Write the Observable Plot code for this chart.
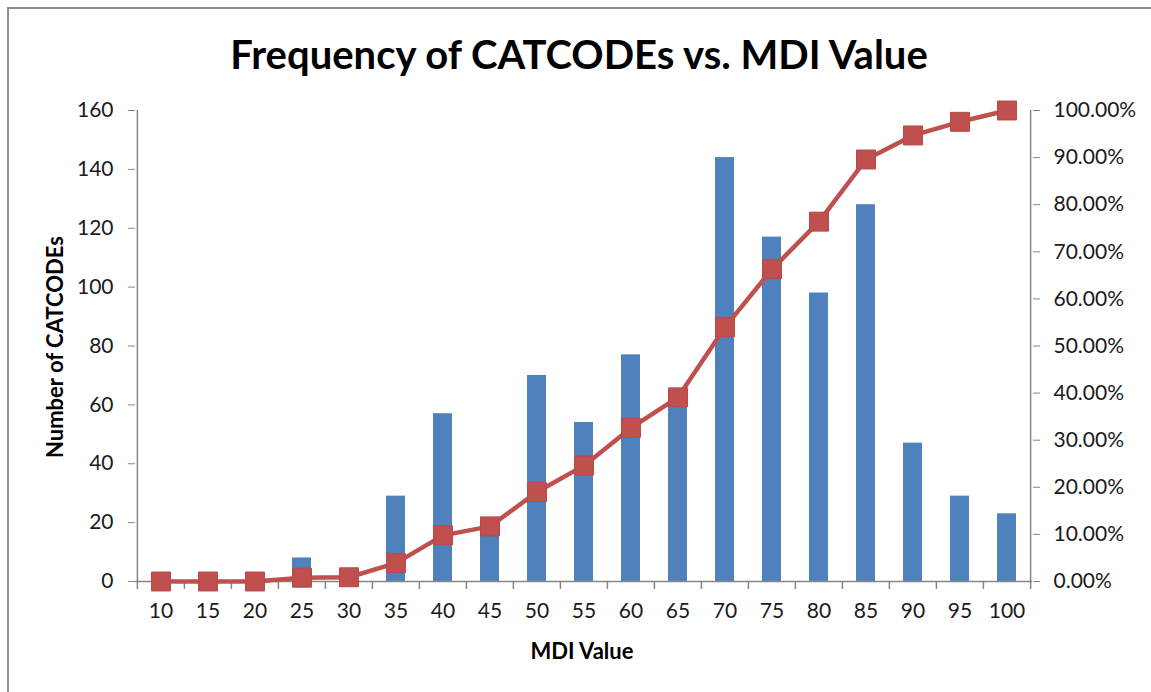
<!DOCTYPE html>
<html><head><meta charset="utf-8">
<script src="https://cdn.jsdelivr.net/npm/d3@7"></script>
<script src="https://cdn.jsdelivr.net/npm/@observablehq/plot@0.6"></script>
<style>
body{margin:0;background:#fff;font-family:Lato,"Open Sans",sans-serif;}
#wrap{position:relative;width:1151px;height:692px;overflow:hidden;background:#fff;}
#border{position:absolute;left:7px;top:7px;width:1300px;height:900px;border-left:2px solid #8c8c8c;border-top:2px solid #8c8c8c;}
#title{position:absolute;top:30px;left:7px;right:0;text-align:center;font-weight:bold;font-size:40px;line-height:1.2;color:#000;white-space:nowrap;}
#chart{position:absolute;left:0;top:0;}
.lab{position:absolute;font-weight:bold;font-size:22px;color:#000;white-space:nowrap;line-height:1;}
#ylab{left:55px;top:347px;transform:translate(-50%,-50%) rotate(-90deg);}
#xlab{left:582px;top:651px;transform:translate(-50%,-50%);}
</style>
</head>
<body>
<div id="wrap">
  <div id="border"></div>
  <div id="chart"></div>
  <div id="title">Frequency of CATCODEs vs. MDI Value</div>
  <div class="lab" id="ylab">Number of CATCODEs</div>
  <div class="lab" id="xlab">MDI Value</div>
</div>
<script>
const mdi = ["10","15","20","25","30","35","40","45","50","55","60","65","70","75","80","85","90","95","100"];
const counts = [0,0,0,8,0,29,57,18,70,54,77,62,144,117,98,128,47,29,23];
const cumPct = [0,0,0,0.8,0.9,3.9,9.8,11.7,19.0,24.6,32.6,39.1,54.0,66.3,76.4,89.6,94.7,97.6,100];
const leftTicks = [0,20,40,60,80,100,120,140,160];
const rightTicks = [0,10,20,30,40,50,60,70,80,90,100];

const data = mdi.map((m, i) => ({mdi: m, count: counts[i], pct: cumPct[i]}));

const W = 1151, H = 692;
const mL = 135, mR = 119, mT = 110, mB = 111;
const step = (W - mL - mR) / mdi.length;
const k = 160 / 100; // right axis percent -> left axis count
const axisColor = "#868686";
const textColor = "#1a1a1a";

const chart = Plot.plot({
  width: W, height: H,
  marginLeft: mL, marginRight: mR, marginTop: mT, marginBottom: mB,
  style: {background: "none", fontFamily: "Lato, 'Open Sans', sans-serif", fontSize: "21px", color: textColor},
  x: {type: "band", domain: mdi, paddingInner: 0.6, paddingOuter: 0.3, align: 0.5, label: null},
  y: {domain: [0, 160], label: null},
  marks: [
    Plot.barY(data, {x: "mdi", y: "count", fill: "#4F81BD"}),
    Plot.ruleY([0], {stroke: axisColor, strokeWidth: 1.5}),
    Plot.ruleX([mdi[0]], {dx: -step / 2, stroke: axisColor, strokeWidth: 1.5}),
    Plot.ruleX([mdi[mdi.length - 1]], {dx: step / 2, stroke: axisColor, strokeWidth: 1.5}),
    Plot.ruleX(mdi, {x: d => d, dx: -step / 2, y1: 0, y2: -2.7, stroke: axisColor, strokeWidth: 1.5}),
    Plot.ruleX([mdi[mdi.length - 1]], {dx: step / 2, y1: 0, y2: -2.7, stroke: axisColor, strokeWidth: 1.5}),
    Plot.axisY({anchor: "left", ticks: leftTicks, tickSize: 7, tickPadding: 15, stroke: axisColor, fill: textColor, fontSize: 21, label: null}),
    Plot.axisY({anchor: "right", ticks: rightTicks.map(p => p * k), tickFormat: d => (d / k).toFixed(2) + "%", tickSize: 7, tickPadding: 14, stroke: axisColor, fill: textColor, fontSize: 21, label: null}),
    Plot.axisX({tickSize: 0, tickPadding: 22, fill: textColor, fontSize: 21, label: null}),
    Plot.line(data, {x: "mdi", y: d => d.pct * k, stroke: "#C0504D", strokeWidth: 4.5}),
    Plot.dot(data, {x: "mdi", y: d => d.pct * k, symbol: "square", r: 10.7, fill: "#C0504D", stroke: "#B9484A", strokeWidth: 1})
  ]
});
document.getElementById("chart").appendChild(chart);
</script>
</body></html>
